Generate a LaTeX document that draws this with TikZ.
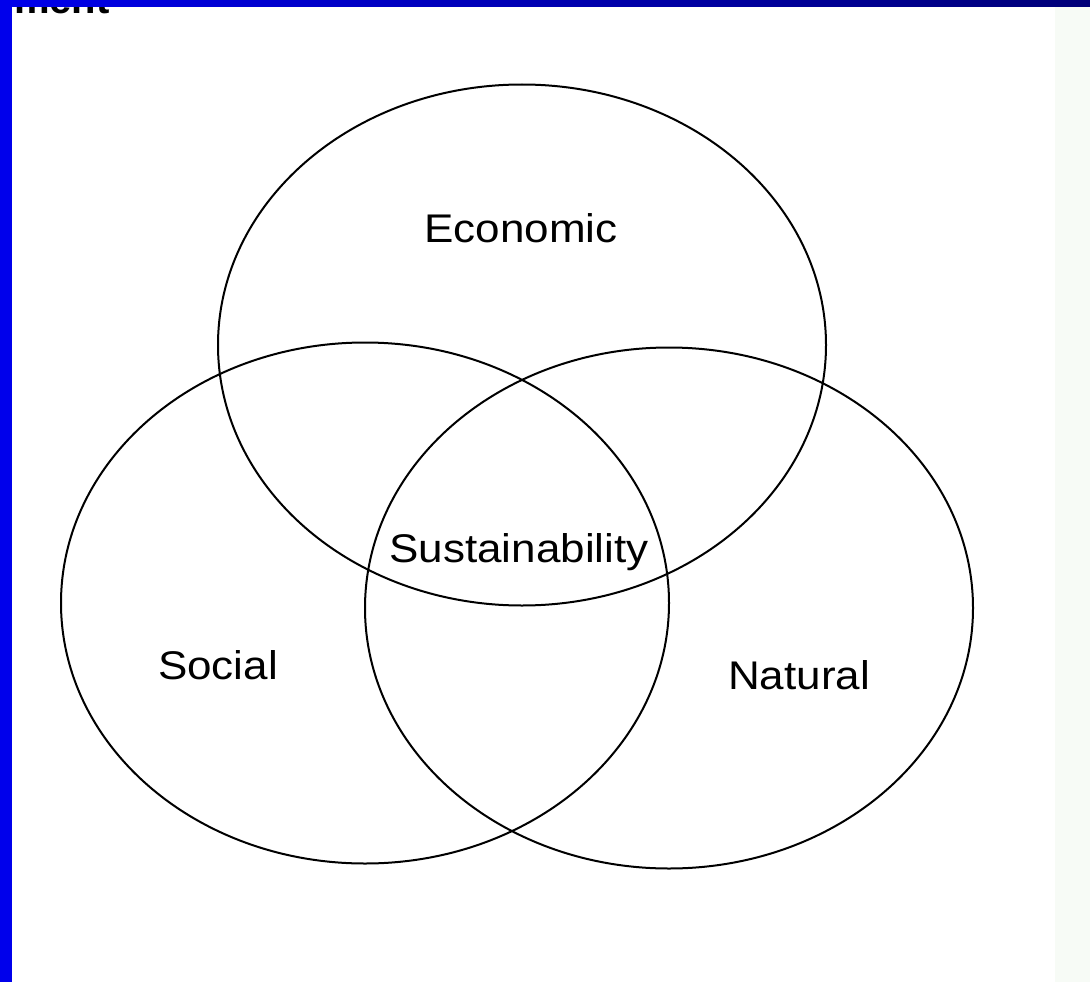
\documentclass[tikz,border=0pt]{standalone}
\usepackage{fontspec}
\newfontfamily\venfont{Liberation Sans}[FakeStretch=1.1]
\newfontfamily\headfont{Liberation Sans}
\usetikzlibrary{shapes.geometric}
\definecolor{slideblue}{RGB}{0,0,235}
\definecolor{slidenavy}{RGB}{0,0,120}
\definecolor{paperedge}{RGB}{247,251,246}
\begin{document}
\begin{tikzpicture}[x=1pt, y=-1pt,
    circ/.style={draw, ellipse, line width=2pt, minimum width=608pt, minimum height=521pt, inner sep=0pt},
    word/.style={anchor=base, inner sep=0pt, font=\venfont\fontsize{40}{48}\selectfont}]
    \useasboundingbox (0,0) rectangle (1090,982);
    \fill[white] (0,0) rectangle (1090,982);
    \fill[paperedge] (1055,0) rectangle (1090,982);

    % the three rings
    \node[circ] (eco) at (522,345) {};
    \node[circ] (soc) at (365,603) {};
    \node[circ] (nat) at (669,608) {};

    % texts
    \node[word] (ecotxt) at (521,242) {Economic};
    \node[word] (sustxt) at (519,562) {Sustainability};
    \node[word] (soctxt) at (218,679) {Social};
    \node[word] (nattxt) at (799,689) {Natural};

    % slide frame
    \node[anchor=base west, inner sep=0pt, font=\headfont\bfseries\fontsize{40}{48}\selectfont] (head) at (14,14) {ment};
    \shade[left color=slideblue, right color=slidenavy] (0,0) rectangle (1090,7);
    \fill[slideblue] (0,0) rectangle (12,982);
\end{tikzpicture}
\end{document}
